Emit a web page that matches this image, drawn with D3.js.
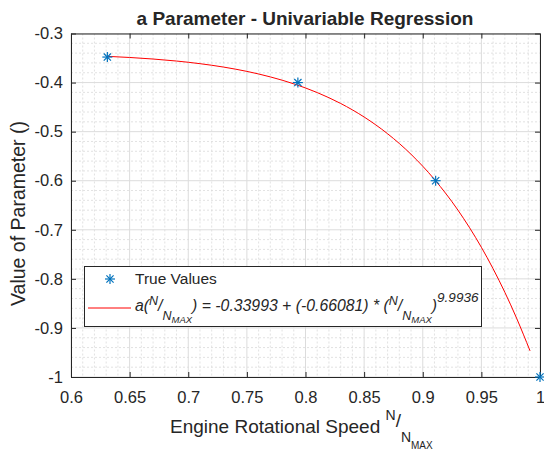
<!DOCTYPE html>
<html>
<head>
<meta charset="utf-8">
<script src="https://cdn.jsdelivr.net/npm/d3@7"></script>
<style>
  body { margin: 0; background: #fff; }
  text { font-family: Arial, "Liberation Sans", Helvetica, sans-serif; fill: #262626; }
</style>
</head>
<body>
<svg id="chart" width="544" height="450"></svg>
<script>
// Measured parameter values against normalised engine speed
const speedRatio = [0.631, 0.7935, 0.911, 1.0];
const paramValue = [-0.348, -0.40, -0.60, -1.0];

// Fitted power-law model: a = c0 + c1 * (N/Nmax)^p
const fitIntercept = -0.33993;
const fitCoeff = -0.66081;
const fitExponent = 9.9936;
const fitSpeeds = [0.631, 0.65, 0.67, 0.69, 0.71, 0.73, 0.75, 0.77, 0.79, 0.81,
                   0.83, 0.85, 0.87, 0.89, 0.91, 0.93, 0.95, 0.96, 0.97, 0.98, 0.9915];

const xTicks = [0.6, 0.65, 0.7, 0.75, 0.8, 0.85, 0.9, 0.95, 1];
const xTickLabels = ["0.6", "0.65", "0.7", "0.75", "0.8", "0.85", "0.9", "0.95", "1"];
const yTicks = [-1, -0.9, -0.8, -0.7, -0.6, -0.5, -0.4, -0.3];
const yTickLabels = ["-1", "-0.9", "-0.8", "-0.7", "-0.6", "-0.5", "-0.4", "-0.3"];

const svg = d3.select("#chart");
const pLeft = 71, pRight = 540, pTop = 33.5, pBottom = 377;

const x = d3.scaleLinear().domain([0.6, 1]).range([pLeft, pRight]);
const y = d3.scaleLinear().domain([-1, -0.3]).range([pBottom, pTop]);

// Minor grid (dotted)
const gMinor = svg.append("g");
gMinor.selectAll("line.mx").data(d3.range(0.61, 1.0, 0.01).filter(v => Math.abs(v * 20 - Math.round(v * 20)) > 1e-6))
  .join("line").attr("x1", d => x(d)).attr("x2", d => x(d)).attr("y1", pTop).attr("y2", pBottom)
  .attr("stroke", "#dadada").attr("stroke-dasharray", "2,2").attr("stroke-width", 0.8);
gMinor.selectAll("line.my").data(d3.range(-0.98, -0.3, 0.02).filter(v => Math.abs(v * 10 - Math.round(v * 10)) > 1e-6))
  .join("line").attr("y1", d => y(d)).attr("y2", d => y(d)).attr("x1", pLeft).attr("x2", pRight)
  .attr("stroke", "#dadada").attr("stroke-dasharray", "2,2").attr("stroke-width", 0.8);

// Major grid (solid)
const gMajor = svg.append("g");
gMajor.selectAll("line.gx").data(xTicks).join("line")
  .attr("x1", d => x(d)).attr("x2", d => x(d)).attr("y1", pTop).attr("y2", pBottom)
  .attr("stroke", "#dcdcdc").attr("stroke-width", 1);
gMajor.selectAll("line.gy").data(yTicks).join("line")
  .attr("y1", d => y(d)).attr("y2", d => y(d)).attr("x1", pLeft).attr("x2", pRight)
  .attr("stroke", "#dcdcdc").attr("stroke-width", 1);

// Axes with inward ticks on all four sides
const fmtX = d => xTickLabels[xTicks.indexOf(d)];
const fmtY = d => yTickLabels[yTicks.indexOf(d)];
const axisStyle = g => {
  g.selectAll("path.domain").attr("stroke", "#262626");
  g.selectAll(".tick line").attr("stroke", "#262626");
  g.selectAll(".tick text").attr("font-size", "16.5px").attr("fill", "#262626")
    .attr("font-family", "Arial, 'Liberation Sans', sans-serif");
};
svg.append("g").attr("transform", `translate(0,${pBottom})`)
  .call(d3.axisBottom(x).tickValues(xTicks).tickFormat(fmtX).tickSizeInner(-5).tickSizeOuter(0).tickPadding(14))
  .call(axisStyle);
svg.append("g").attr("transform", `translate(0,${pTop})`)
  .call(d3.axisTop(x).tickValues(xTicks).tickFormat("").tickSizeInner(-5).tickSizeOuter(0))
  .call(axisStyle);
svg.append("g").attr("transform", `translate(${pLeft},0)`)
  .call(d3.axisLeft(y).tickValues(yTicks).tickFormat(fmtY).tickSizeInner(-5).tickSizeOuter(0).tickPadding(8))
  .call(axisStyle);
svg.append("g").attr("transform", `translate(${pRight},0)`)
  .call(d3.axisRight(y).tickValues(yTicks).tickFormat("").tickSizeInner(-5).tickSizeOuter(0))
  .call(axisStyle);

// Fitted curve
const fitLine = d3.line()
  .x(d => x(d))
  .y(d => y(fitIntercept + fitCoeff * Math.pow(d, fitExponent)))
  .curve(d3.curveMonotoneX);
svg.append("path").datum(fitSpeeds).attr("d", fitLine)
  .attr("fill", "none").attr("stroke", "#ff0000").attr("stroke-width", 1);

// Asterisk markers
function asterisk(sel, r) {
  const arms = [[r, 0], [0, r], [r * 0.72, r * 0.72], [r * 0.72, -r * 0.72]];
  arms.forEach(([dx, dy]) => {
    sel.append("line").attr("x1", -dx).attr("y1", -dy).attr("x2", dx).attr("y2", dy)
      .attr("stroke", "#0072BD").attr("stroke-width", 1.2);
  });
}
const pts = svg.append("g").selectAll("g").data(d3.zip(speedRatio, paramValue)).join("g")
  .attr("transform", d => `translate(${x(d[0])},${y(d[1])})`);
pts.each(function () { asterisk(d3.select(this), 5); });

// Title
svg.append("text").attr("x", 305).attr("y", 25)
  .attr("text-anchor", "middle").attr("font-size", "19px").attr("font-weight", "bold")
  .attr("fill", "#000").text("a Parameter - Univariable Regression");

// Y label
svg.append("text").attr("transform", "translate(25,213.5) rotate(-90)")
  .attr("text-anchor", "middle").attr("font-size", "19.5px").text("Value of Parameter ()");

// X label with N/N_MAX
const xl = svg.append("text").attr("x", 170).attr("y", 433).attr("font-size", "19px");
xl.append("tspan").text("Engine Rotational Speed ");
xl.append("tspan").attr("font-size", "14px").attr("dy", -13).text("N");
xl.append("tspan").attr("font-size", "19px").attr("dy", 7).text("/");
xl.append("tspan").attr("font-size", "14px").attr("dy", 15).text("N");
xl.append("tspan").attr("font-size", "10px").attr("dy", 7).text("MAX");

// Legend
const lg = svg.append("g");
lg.append("rect").attr("x", 84.5).attr("y", 266.5).attr("width", 397).attr("height", 60)
  .attr("fill", "#fff").attr("stroke", "#262626").attr("stroke-width", 1);
const lm = lg.append("g").attr("transform", "translate(110,279)");
asterisk(lm, 5);
lg.append("text").attr("x", 135).attr("y", 284).attr("font-size", "15.5px").attr("fill", "#000").text("True Values");
lg.append("line").attr("x1", 88).attr("x2", 131).attr("y1", 308).attr("y2", 308)
  .attr("stroke", "#ff0000").attr("stroke-width", 1);

const ft = lg.append("text").attr("x", 135).attr("y", 311).attr("font-size", "15.8px")
  .attr("font-style", "italic").attr("fill", "#000");
function nOverNmax(t) {
  t.append("tspan").attr("font-size", "12.5px").attr("dy", -6).text("N");
  t.append("tspan").attr("font-size", "15.8px").attr("dy", 6).text("/");
  t.append("tspan").attr("font-size", "12.5px").attr("dy", 9).text("N");
  t.append("tspan").attr("font-size", "9.5px").attr("dy", 3).text("MAX");
}
ft.append("tspan").text("a(");
nOverNmax(ft);
ft.append("tspan").attr("dy", -12).text(") = " + fitIntercept.toFixed(5) + " + (" + fitCoeff.toFixed(5) + ") * (");
nOverNmax(ft);
ft.append("tspan").attr("dy", -12).text(")");
ft.append("tspan").attr("font-size", "13.5px").attr("dy", -9).text(String(fitExponent));
</script>
</body>
</html>
